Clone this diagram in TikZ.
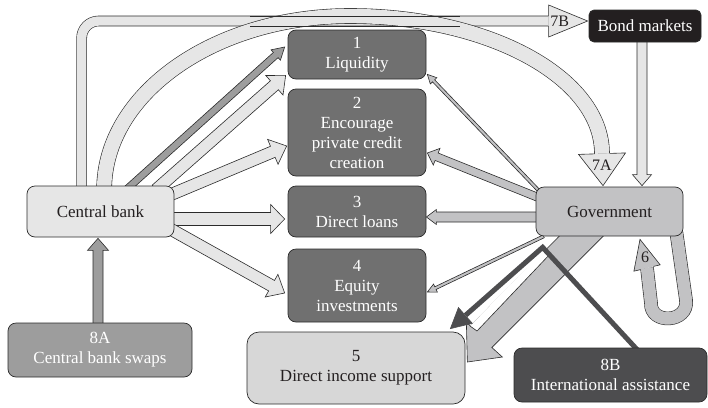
\documentclass[tikz,border=0pt]{standalone}
\usepackage{fontspec}
\setmainfont{Liberation Serif}
\usetikzlibrary{calc}
\definecolor{lightfill}{HTML}{E6E6E6}
\definecolor{medfill}{HTML}{9D9D9D}
\definecolor{darkfill}{HTML}{707070}
\definecolor{govfill}{HTML}{C2C2C4}
\definecolor{fivefill}{HTML}{D7D7D7}
\definecolor{bondfill}{HTML}{231F20}
\definecolor{ebfill}{HTML}{4D4D4F}
\definecolor{ink}{HTML}{231F20}
\definecolor{lineclr}{HTML}{2B2B2B}
\pgfdeclarelayer{arrows}
\pgfsetlayers{arrows,main}
% straight block arrow: style, start, tip, shaft half width, head half width, head length
\newcommand\blockarrow[6]{%
  \coordinate (ba-a) at #2;
  \coordinate (ba-t) at #3;
  \coordinate (ba-h) at ($(ba-t)!#6!(ba-a)$);
  \filldraw[#1] ($(ba-a)!#4!90:(ba-t)$) -- ($(ba-h)!#4!90:(ba-t)$) -- ($(ba-h)!#5!90:(ba-t)$) -- (ba-t)
     -- ($(ba-h)!#5!-90:(ba-t)$) -- ($(ba-h)!#4!-90:(ba-t)$) -- ($(ba-a)!#4!-90:(ba-t)$) -- cycle;
}
% open arrow head for a curved shaft: style, base, tip, shaft half width, head half width
\newcommand\openhead[5]{%
  \coordinate (oh-b) at #2;
  \coordinate (oh-t) at #3;
  \filldraw[#1] ($(oh-b)!#4!90:(oh-t)$) -- ($(oh-b)!#5!90:(oh-t)$) -- (oh-t)
     -- ($(oh-b)!#5!-90:(oh-t)$) -- ($(oh-b)!#4!-90:(oh-t)$);
}
\tikzset{
  box/.style={draw=lineclr, line width=0.7pt, rounded corners=8pt, align=center,
    inner sep=0pt, font=\fontsize{17}{20}\selectfont},
  arr/.style={draw=lineclr, line width=0.6pt, line join=miter},
  tube/.style={draw=lineclr, line width=0.6pt, double=#1},
  lbl/.style={inner sep=0pt, text=ink, font=\fontsize{16}{18}\selectfont},
}
\begin{document}
\begin{tikzpicture}[x=1pt, y=-1pt]
\useasboundingbox (0,0) rectangle (708,407);
% ---------- nodes ----------
\path
 node[box, fill=lightfill, text=ink, minimum width=147, minimum height=51] (cb) at (100.5,211.5) {Central bank}
 node[box, fill=medfill, text=white, minimum width=184, minimum height=54] (swaps) at (100,350) {8A\\Central bank swaps}
 node[box, fill=darkfill, text=white, minimum width=138, minimum height=49] (liq) at (357,54.5) {1\\Liquidity}
 node[box, fill=darkfill, text=white, minimum width=138, minimum height=87] (credit) at (357,132.5) {2\\Encourage\\private credit\\creation}
 node[box, fill=darkfill, text=white, minimum width=138, minimum height=51] (loans) at (357,211.5) {3\\Direct loans}
 node[box, fill=darkfill, text=white, minimum width=138, minimum height=73] (equity) at (357,285.5) {4\\Equity\\investments}
 node[box, fill=fivefill, text=ink, minimum width=218, minimum height=72, rounded corners=12pt] (income) at (356,368) {5\\Direct income support}
 node[box, fill=govfill, text=ink, minimum width=147, minimum height=49] (gov) at (609.5,211.5) {Government}
 node[box, fill=bondfill, text=white, minimum width=112, minimum height=32, rounded corners=5pt] (bond) at (645,26) {Bond markets}
 node[box, fill=ebfill, text=white, minimum width=193, minimum height=54] (intl) at (610.5,375) {8B\\International assistance};
% ---------- connectors (behind the boxes) ----------
\begin{pgfonlayer}{arrows}
% 7B
\coordinate (s7b) at ($(cb.north west)+(55,4)$);
\coordinate (b7b) at ($(bond.west)+(-40,-5)$);
\coordinate (t7b) at ($(bond.west)+(-1,-5)$);
\draw[tube=lightfill, double distance=9.4pt, rounded corners=17pt] (s7b) |- (b7b);
\openhead{arr, fill=lightfill}{(b7b)}{(t7b)}{5pt}{16pt}
\node[lbl] (l7b) at ($(b7b)+(11,0)$) {7B};
% 7A
\coordinate (s7a) at ($(cb.north west)+(77.5,4)$);
\coordinate (m7a) at (350,16);
\coordinate (b7a) at ($(gov.north)+(-7.5,-33)$);
\coordinate (t7a) at ($(gov.north)+(-6.5,-1)$);
\draw[tube=lightfill, double distance=14.4pt] (s7a) .. controls +(0,-96) and +(-135.5,0) .. (m7a)
   .. controls +(139,0) and +(0,-76) .. (b7a);
\openhead{arr, fill=lightfill}{(b7a)}{(t7a)}{7.5pt}{23.5pt}
\node[lbl] (l7a) at ($(b7a)+(0,12)$) {7A};
\draw[lineclr, line width=0.6pt] (250,16) -- (460,16) (250,26) -- (460,26);
% central bank outflows
\blockarrow{arr, fill=medfill}{($(cb.north west)+(99.6,4)$)}{($(liq.west)+(-3,-7.5)$)}{3.5pt}{7pt}{12pt}
\blockarrow{arr, fill=lightfill}{($(cb.north west)+(129.5,4)$)}{($(liq.south west)+(-2,-4)$)}{6pt}{13pt}{15pt}
\blockarrow{arr, fill=lightfill}{($(cb.north east)+(-6,10)$)}{($(credit.west)+(-1,13.5)$)}{6pt}{13.5pt}{15pt}
\blockarrow{arr, fill=lightfill}{($(cb.east)+(-4,7.5)$)}{($(loans.west)+(-3,7.5)$)}{6.5pt}{14.5pt}{14pt}
\blockarrow{arr, fill=lightfill}{($(cb.east)+(-4,17.5)$)}{($(equity.west)+(-3,7.5)$)}{6pt}{13pt}{15pt}
% government outflows
\blockarrow{arr, fill=govfill}{($(gov.north west)+(6,7)$)}{($(liq.south east)+(1,-5)$)}{1.5pt}{4.5pt}{9pt}
\blockarrow{arr, fill=govfill}{($(gov.west)+(5,-13)$)}{($(credit.east)+(1,20.5)$)}{4pt}{9pt}{10pt}
\blockarrow{arr, fill=govfill}{($(gov.west)+(4,5.5)$)}{($(loans.east)+(0,5.5)$)}{5pt}{7.5pt}{10pt}
\blockarrow{arr, fill=govfill}{($(gov.south west)+(8,0)$)}{($(equity.east)+(1,6.5)$)}{1.5pt}{4.5pt}{9pt}
% big arrow government -> direct income support
\filldraw[arr, fill=govfill] ($(gov.south)+(-46.5,-4)$) -- ($(income.east)+(5,-42)$) -- ($(income.east)+(1,-46)$)
   -- ($(income.east)+(2,-6)$) -- ($(income.east)+(37,-11)$) -- ($(income.east)+(26.5,-20.5)$)
   -- ($(gov.south)+(-2.5,-4)$) -- cycle;
% white band inside the big arrow
\fill[white] (545,249) -- (551,253) -- (477,331) -- (470,326) -- cycle;
\draw[lineclr, line width=0.6pt] (551,253) -- (477,331) -- (470,326);
% 8B dark path
\coordinate (s8b) at ($(intl.north)+(28.5,4)$);
\coordinate (v8b) at ($(gov.south west)+(7,11)$);
\coordinate (t8b) at ($(income.north east)+(-15,-3)$);
\coordinate (b8b) at ($(t8b)!20pt!(v8b)$);
\draw[ebfill, line width=5pt, line join=miter] (s8b) -- (v8b) -- (b8b);
\openhead{fill=ebfill, draw=ebfill, line width=0.6pt}{(b8b)}{(t8b)}{2.5pt}{10.5pt}
% loop 6
\coordinate (s6) at ($(gov.south east)+(-7,-4)$);
\coordinate (b6) at (647,268);
\coordinate (t6) at ($(gov.south)+(30.5,3)$);
\draw[tube=govfill, double distance=12.4pt] (s6) -- (686,300) .. controls (689,323) and (650,325) .. (651,303) -- (b6);
\openhead{arr, fill=govfill}{(b6)}{(t6)}{6.5pt}{13.5pt}
\node[lbl] (l6) at (645,257) {6};
% bond markets -> government, swaps -> central bank
\blockarrow{arr, fill=lightfill}{($(bond.south)+(-3,-2)$)}{($(gov.north)+(32.5,-1)$)}{5pt}{9.5pt}{11pt}
\blockarrow{arr, fill=medfill}{($(swaps.north)+(-2,2)$)}{($(cb.south)+(-2.5,1)$)}{5pt}{10.5pt}{12pt}
\end{pgfonlayer}
\end{tikzpicture}
\end{document}
